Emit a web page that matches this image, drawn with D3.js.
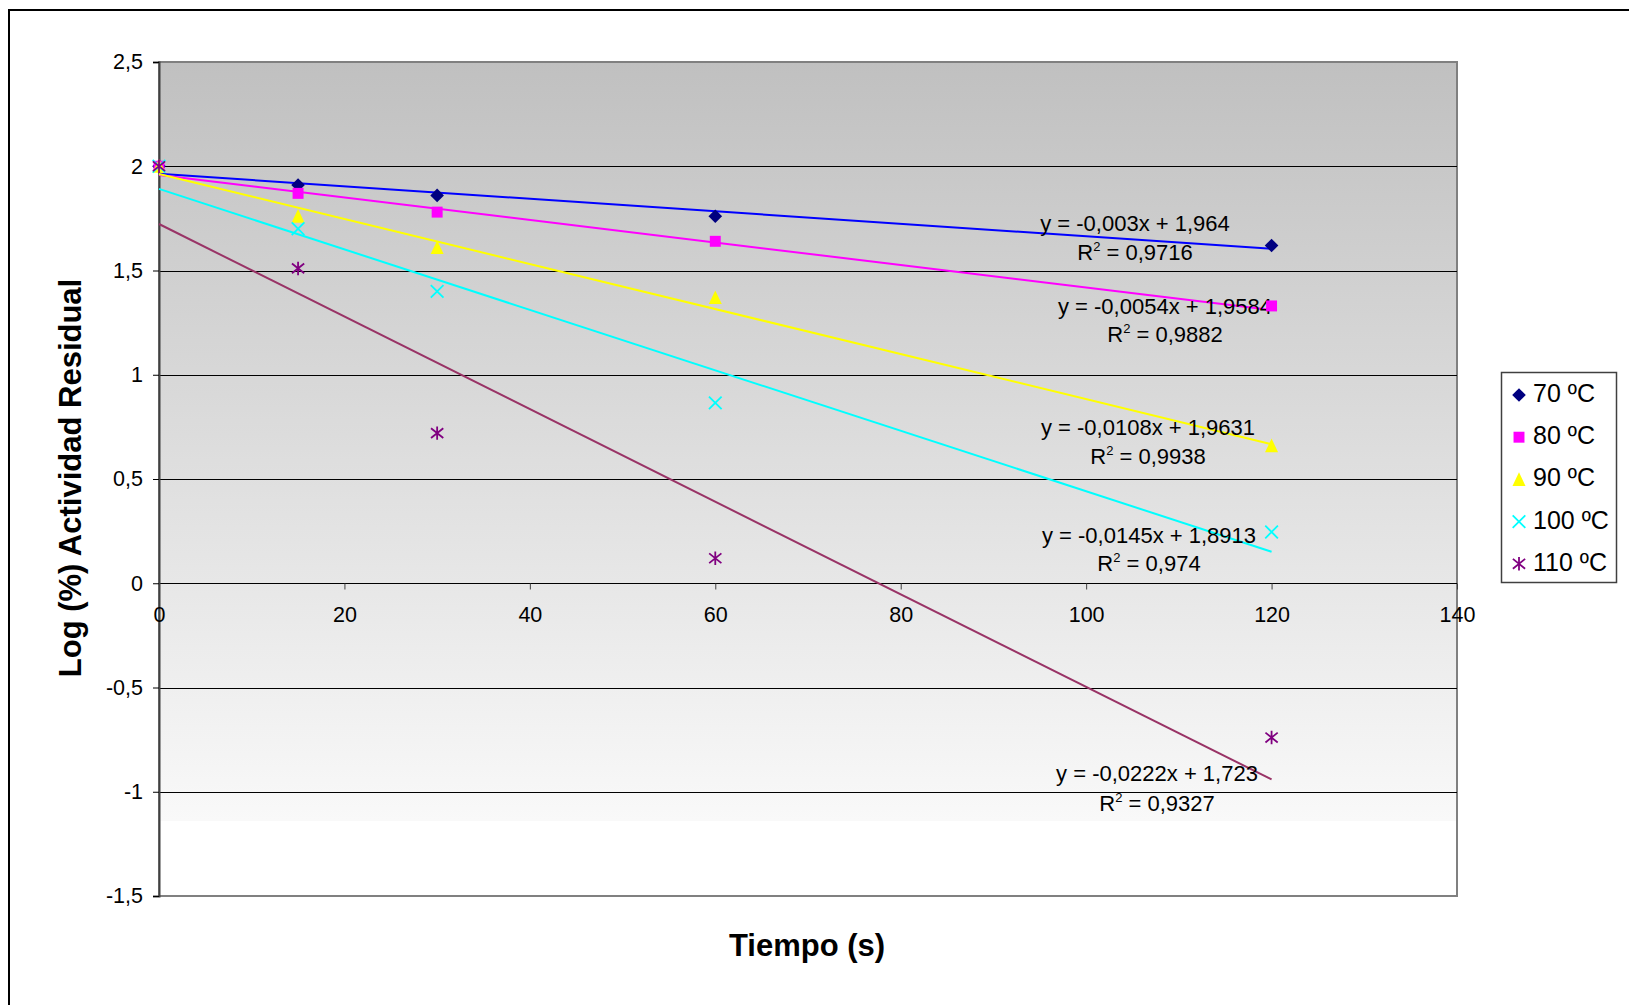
<!DOCTYPE html>
<html>
<head>
<meta charset="utf-8">
<script src="https://cdn.jsdelivr.net/npm/d3@7"></script>
<style>
  body { margin: 0; background: #fff; }
  svg { display: block; font-family: "Liberation Sans", Arial, sans-serif; }
</style>
</head>
<body>
<svg width="1629" height="1005"></svg>
<script>
// data
const tiempos = [0, 15, 30, 60, 120];
const series = ['70 ºC', '80 ºC', '90 ºC', '100 ºC', '110 ºC'];
const vals70 = [2, 1.91, 1.86, 1.76, 1.62];
const vals80 = [2, 1.87, 1.78, 1.64, 1.33];
const vals90 = [2, 1.76, 1.61, 1.37, 0.66];
const vals100 = [2, 1.70, 1.40, 0.865, 0.246];
const vals110 = [2, 1.51, 0.72, 0.12, -0.74];
const slopes = [-0.003, -0.0054, -0.0108, -0.0145, -0.0222];
const intercepts = [1.964, 1.9584, 1.9631, 1.8913, 1.723];
const eqLabels = ['y = -0,003x + 1,964', 'y = -0,0054x + 1,9584', 'y = -0,0108x + 1,9631', 'y = -0,0145x + 1,8913', 'y = -0,0222x + 1,723'];
const r2Labels = ['0,9716', '0,9882', '0,9938', '0,974', '0,9327'];
const xTicks = [0, 20, 40, 60, 80, 100, 120, 140];
const yTicks = [-1.5, -1, -0.5, 0, 0.5, 1, 1.5, 2, 2.5];

const allVals = [vals70, vals80, vals90, vals100, vals110];
const markerFill = ['#000080', '#ff00ff', '#ffff00', '#00ffff', '#800080'];
const lineColor = ['#0000ff', '#ff00ff', '#ffff00', '#00ffff', '#993366'];

const svg = d3.select('svg');

// chart frame
svg.append('rect').attr('x', 9).attr('y', 10).attr('width', 1650).attr('height', 1020)
  .attr('fill', 'none').attr('stroke', '#000').attr('stroke-width', 2);

const x = d3.scaleLinear().domain([0, 140]).range([159, 1457]);
const y = d3.scaleLinear().domain([-1.5, 2.5]).range([896, 62]);

// plot area gradient
const defs = svg.append('defs');
const grad = defs.append('linearGradient').attr('id', 'bg')
  .attr('x1', 0).attr('y1', 0).attr('x2', 0).attr('y2', 1);
grad.append('stop').attr('offset', '0%').attr('stop-color', '#c0c0c0');
grad.append('stop').attr('offset', '91%').attr('stop-color', '#f9f9f9');
grad.append('stop').attr('offset', '91%').attr('stop-color', '#ffffff');
grad.append('stop').attr('offset', '100%').attr('stop-color', '#ffffff');

svg.append('rect').attr('x', x(0)).attr('y', y(2.5))
  .attr('width', x(140) - x(0)).attr('height', y(-1.5) - y(2.5))
  .attr('fill', 'url(#bg)').attr('stroke', '#808080').attr('stroke-width', 2);

// gridlines
svg.append('g').selectAll('line')
  .data(yTicks.filter(d => d > -1.5 && d < 2.5))
  .enter().append('line')
  .attr('x1', x(0)).attr('x2', x(140))
  .attr('y1', d => Math.round(y(d)) + 0.5).attr('y2', d => Math.round(y(d)) + 0.5)
  .attr('stroke', '#000').attr('stroke-width', 1);

const fmt = d => String(d).replace('.', ',');

// y axis
const yAxis = svg.append('g').attr('transform', `translate(${x(0)},0)`)
  .call(d3.axisLeft(y).tickValues(yTicks).tickSize(6).tickPadding(10).tickFormat(fmt));
yAxis.select('.domain').attr('stroke', '#404040').attr('stroke-width', 2);
yAxis.selectAll('.tick line').attr('stroke', '#000');
yAxis.selectAll('text').attr('font-size', 21.5).attr('fill', '#000')
  .attr('font-family', '"Liberation Sans", Arial, sans-serif');

// x axis on the zero line
const xAxis = svg.append('g').attr('transform', `translate(0,${Math.round(y(0)) + 0.5})`)
  .call(d3.axisBottom(x).tickValues(xTicks).tickSize(6).tickPadding(17).tickFormat(fmt));
xAxis.select('.domain').remove();
xAxis.selectAll('.tick line').attr('stroke', '#404040');
xAxis.selectAll('text').attr('font-size', 21.5).attr('fill', '#000')
  .attr('font-family', '"Liberation Sans", Arial, sans-serif');

// trendlines
series.forEach((s, i) => {
  svg.append('line')
    .attr('x1', x(0)).attr('y1', y(intercepts[i]))
    .attr('x2', x(120)).attr('y2', y(intercepts[i] + slopes[i] * 120))
    .attr('stroke', lineColor[i]).attr('stroke-width', 2);
});

// trendline labels
const eqPos = [[1135, 223, 252], [1165, 306, 334], [1148, 427, 456], [1149, 535, 563], [1157, 773, 803]];
series.forEach((s, i) => {
  const p = eqPos[i];
  svg.append('text').attr('x', p[0]).attr('y', p[1] + 8).attr('text-anchor', 'middle')
    .attr('font-size', 22).text(eqLabels[i]);
  const t = svg.append('text').attr('x', p[0]).attr('y', p[2] + 8).attr('text-anchor', 'middle')
    .attr('font-size', 22);
  t.append('tspan').text('R');
  t.append('tspan').attr('font-size', 13).attr('dy', -9).text('2');
  t.append('tspan').attr('dy', 9).text(' = ' + r2Labels[i]);
});

// marker shapes
const diamond = { draw(c, s) { const r = Math.sqrt(s) / 2 * 1.3; c.moveTo(0, -r); c.lineTo(r, 0); c.lineTo(0, r); c.lineTo(-r, 0); c.closePath(); } };
const square = { draw(c, s) { const r = Math.sqrt(s) / 2; c.rect(-r, -r, 2 * r, 2 * r); } };
const triangle = { draw(c, s) { const r = Math.sqrt(s) / 2; c.moveTo(0, -r * 1.1); c.lineTo(r, r); c.lineTo(-r, r); c.closePath(); } };
const cross = { draw(c, s) { const r = Math.sqrt(s) / 2; c.moveTo(-r, -r); c.lineTo(r, r); c.moveTo(-r, r); c.lineTo(r, -r); } };
const star = { draw(c, s) { const r = Math.sqrt(s) / 2; c.moveTo(-r, -r * 0.8); c.lineTo(r, r * 0.8); c.moveTo(-r, r * 0.8); c.lineTo(r, -r * 0.8); c.moveTo(0, -r * 1.1); c.lineTo(0, r * 1.1); } };
const shapes = [diamond, square, triangle, cross, star];
const sizes = [110, 120, 170, 160, 150];
const filled = [true, true, true, false, false];

function drawMarker(g, i) {
  g.append('path').attr('d', d3.symbol().type(shapes[i]).size(sizes[i])())
    .attr('fill', filled[i] ? markerFill[i] : 'none')
    .attr('stroke', markerFill[i]).attr('stroke-width', filled[i] ? 0 : 1.8);
}

series.forEach((s, i) => {
  allVals[i].forEach((v, k) => {
    const g = svg.append('g').attr('transform', `translate(${x(tiempos[k])},${y(v)})`);
    drawMarker(g, i);
  });
});

// legend
const leg = svg.append('g');
leg.append('rect').attr('x', 1501.5).attr('y', 372.5).attr('width', 115).attr('height', 210)
  .attr('fill', '#fff').attr('stroke', '#404040').attr('stroke-width', 1.5);
series.forEach((s, i) => {
  const ly = 393 + i * 42.2;
  const g = leg.append('g').attr('transform', `translate(1519,${ly + 2})`);
  drawMarker(g, i);
  leg.append('text').attr('x', 1533).attr('y', ly + 9).attr('font-size', 25).text(s);
});

// axis titles
svg.append('text').attr('x', 807).attr('y', 956).attr('text-anchor', 'middle')
  .attr('font-size', 31).attr('font-weight', 'bold').text('Tiempo (s)');
svg.append('text').attr('transform', 'translate(81,478) rotate(-90)').attr('text-anchor', 'middle')
  .attr('font-size', 31).attr('font-weight', 'bold').text('Log (%) Actividad Residual');
</script>
</body>
</html>
